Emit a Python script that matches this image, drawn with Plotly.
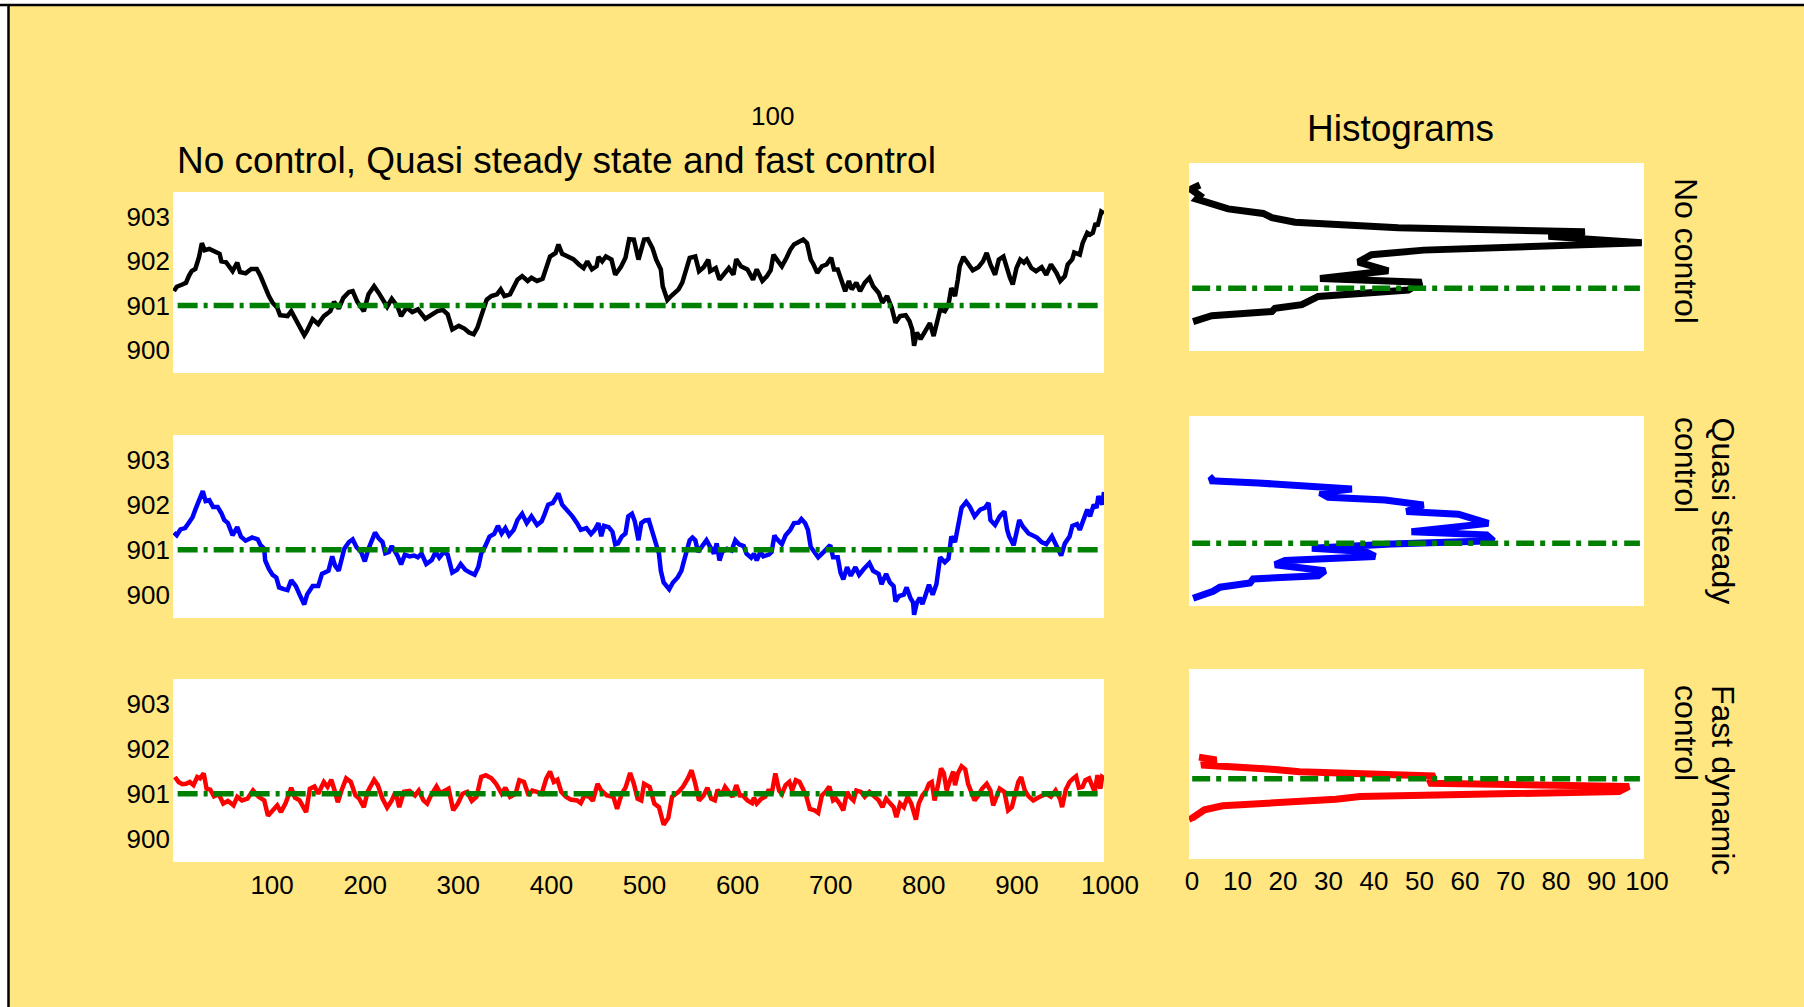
import plotly.graph_objects as go

# ---------------- data ----------------
SETPOINT = 901.0

t_none = [1, 4, 10, 14, 17, 20, 24, 28, 31, 34, 39, 45, 50, 52, 57, 64, 69, 72, 78, 84, 90, 94, 99, 103, 107,
          112, 115, 123, 127, 134, 141, 144, 150, 156, 162, 169, 173, 178, 183, 189, 193, 198, 205, 210, 216,
          221, 227, 230, 235, 241, 245, 251, 257, 263, 271, 278, 284, 290, 295, 300, 307, 313, 318, 323, 327,
          331, 337, 342, 348, 352, 356, 362, 366, 370, 375, 381, 385, 391, 397, 401, 405, 411, 414, 418, 424,
          430, 436, 441, 445, 450, 455, 457, 461, 465, 471, 475, 481, 486, 490, 495, 500, 506, 510, 515, 519,
          524, 526, 531, 535, 538, 543, 547, 551, 555, 561, 565, 570, 575, 577, 583, 587, 592, 597, 602, 605,
          610, 617, 623, 627, 633, 638, 642, 645, 650, 654, 659, 663, 667, 672, 677, 681, 685, 688, 692, 697,
          702, 707, 710, 714, 718, 722, 726, 729, 734, 738, 743, 748, 752, 758, 762, 767, 772, 776, 781, 787,
          791, 794, 796, 799, 803, 807, 813, 817, 820, 824, 829, 833, 836, 840, 843, 845, 849, 854, 859, 865,
          870, 874, 878, 883, 887, 892, 896, 899, 902, 906, 910, 914, 917, 922, 927, 933, 938, 943, 949, 953,
          958, 961, 966, 968, 974, 977, 982, 985, 988, 991, 993, 995, 997, 1000]
v_none = [901.32, 901.42, 901.47, 901.51, 901.66, 901.77, 901.82, 902.09, 902.40, 902.24, 902.27, 902.22,
          902.16, 901.99, 901.97, 901.77, 901.96, 901.75, 901.72, 901.82, 901.82, 901.66, 901.40, 901.21,
          901.06, 900.95, 900.78, 900.76, 900.87, 900.61, 900.33, 900.43, 900.69, 900.58, 900.76, 900.87,
          901.08, 900.93, 901.17, 901.30, 901.32, 901.08, 900.87, 901.25, 901.43, 901.28, 901.06, 900.97,
          901.15, 900.98, 900.76, 900.95, 900.85, 900.91, 900.70, 900.78, 900.87, 900.90, 900.80, 900.46,
          900.54, 900.48, 900.39, 900.35, 900.50, 900.76, 901.13, 901.21, 901.25, 901.36, 901.21, 901.25,
          901.43, 901.58, 901.66, 901.55, 901.62, 901.55, 901.60, 901.88, 902.10, 902.18, 902.37, 902.16,
          902.09, 902.04, 901.92, 901.84, 901.99, 901.81, 901.88, 902.09, 901.99, 902.10, 902.03, 901.69,
          901.86, 902.07, 902.49, 902.48, 902.03, 902.48, 902.49, 902.29, 902.03, 901.81, 901.43, 901.12,
          901.21, 901.28, 901.36, 901.51, 901.77, 902.07, 902.10, 901.77, 901.86, 902.03, 901.77, 901.84,
          901.58, 901.73, 901.84, 901.69, 902.04, 901.88, 901.81, 901.58, 901.81, 901.55, 901.66, 901.79,
          902.14, 901.99, 901.88, 902.07, 902.25, 902.37, 902.42, 902.48, 902.40, 902.03, 901.92, 901.73,
          901.88, 901.92, 902.07, 901.81, 901.81, 901.55, 901.32, 901.55, 901.36, 901.51, 901.32, 901.51,
          901.62, 901.43, 901.28, 901.06, 901.21, 900.95, 900.61, 900.76, 900.78, 900.65, 900.46, 900.09,
          900.39, 900.24, 900.40, 900.60, 900.31, 900.54, 900.91, 900.87, 901.02, 901.39, 901.21, 901.58,
          901.88, 902.09, 901.96, 901.79, 901.86, 901.99, 902.18, 901.92, 901.69, 902.03, 902.10, 901.77,
          901.62, 901.47, 901.84, 902.03, 901.96, 902.03, 901.84, 901.77, 901.86, 901.69, 901.92, 901.73,
          901.55, 901.66, 901.92, 902.04, 902.19, 902.14, 902.40, 902.63, 902.59, 902.63, 902.85, 902.78,
          902.93, 903.11, 903.07]

t_quasi = [1, 4, 8, 13, 17, 21, 24, 28, 32, 35, 39, 43, 48, 52, 55, 59, 64, 69, 73, 78, 85, 91, 94, 98, 99,
           103, 107, 111, 114, 119, 123, 127, 132, 136, 141, 144, 150, 156, 160, 167, 171, 174, 178, 184, 189,
           193, 197, 202, 206, 210, 215, 217, 221, 225, 228, 232, 235, 241, 245, 249, 254, 259, 263, 267, 272,
           278, 282, 286, 291, 295, 300, 305, 309, 314, 319, 324, 328, 331, 335, 340, 345, 349, 353, 357, 361,
           366, 370, 375, 380, 385, 391, 396, 399, 403, 408, 414, 418, 423, 429, 434, 438, 444, 449, 453, 457,
           460, 463, 468, 472, 475, 478, 482, 486, 489, 493, 496, 500, 503, 507, 511, 514, 519, 522, 524, 527,
           533, 537, 542, 546, 549, 553, 555, 558, 561, 564, 568, 573, 577, 581, 584, 587, 590, 595, 600, 604,
           608, 613, 616, 621, 624, 627, 631, 634, 640, 643, 646, 648, 654, 658, 663, 667, 672, 675, 679, 682,
           685, 690, 693, 699, 706, 709, 714, 717, 720, 724, 728, 733, 737, 742, 748, 752, 758, 761, 766, 770,
           774, 776, 780, 785, 788, 792, 795, 796, 799, 802, 805, 808, 812, 816, 820, 824, 829, 833, 836, 840,
           844, 847, 852, 856, 861, 867, 872, 876, 878, 883, 888, 893, 896, 898, 903, 906, 909, 913, 919, 923,
           928, 933, 938, 944, 949, 954, 958, 963, 966, 971, 974, 978, 982, 985, 989, 992, 994, 998, 1000]
v_quasi = [901.38, 901.32, 901.45, 901.48, 901.60, 901.72, 901.89, 902.08, 902.30, 902.08, 902.10, 901.95,
           901.95, 901.81, 901.66, 901.59, 901.32, 901.50, 901.29, 901.20, 901.27, 901.23, 901.10, 901.02,
           900.76, 900.57, 900.44, 900.38, 900.16, 900.12, 900.10, 900.32, 900.19, 900.00, 899.78, 900.00,
           900.19, 900.19, 900.46, 900.53, 900.85, 900.65, 900.53, 901.02, 901.17, 901.23, 901.06, 900.95,
           900.74, 901.02, 901.29, 901.38, 901.25, 901.17, 900.92, 900.95, 901.08, 900.87, 900.67, 900.89,
           900.85, 900.87, 900.83, 900.91, 900.68, 900.77, 900.95, 900.82, 900.95, 900.89, 900.49, 900.55,
           900.68, 900.55, 900.49, 900.44, 900.62, 900.91, 901.06, 901.29, 901.35, 901.53, 901.36, 901.48,
           901.32, 901.44, 901.66, 901.80, 901.59, 901.74, 901.55, 901.63, 901.78, 902.00, 902.04, 902.25,
           902.00, 901.89, 901.74, 901.59, 901.44, 901.48, 901.35, 901.44, 901.59, 901.30, 901.53, 901.50,
           901.40, 901.12, 901.14, 901.29, 901.36, 901.74, 901.80, 901.63, 901.21, 901.59, 901.65, 901.66,
           901.44, 901.14, 900.91, 900.53, 900.27, 900.12, 900.27, 900.38, 900.53, 900.76, 901.02, 901.21,
           901.27, 901.21, 900.95, 901.06, 901.21, 901.06, 900.91, 901.14, 900.76, 900.95, 901.02, 900.98,
           901.21, 901.12, 901.08, 900.91, 900.82, 900.91, 900.76, 900.95, 900.85, 900.89, 900.95, 901.32,
           901.25, 901.12, 901.32, 901.44, 901.59, 901.60, 901.68, 901.59, 901.44, 901.06, 900.91, 900.83,
           900.95, 901.10, 900.83, 900.83, 900.49, 900.34, 900.61, 900.42, 900.61, 900.44, 900.57, 900.70,
           900.53, 900.46, 900.23, 900.46, 900.27, 900.19, 899.85, 899.97, 900.00, 900.16, 899.93, 899.82,
           899.55, 899.82, 899.93, 899.79, 899.97, 900.22, 900.00, 900.23, 900.83, 900.72, 900.80, 901.29,
           901.17, 901.59, 901.93, 902.06, 901.95, 901.74, 901.89, 901.93, 902.04, 901.66, 901.55, 901.74,
           901.85, 901.44, 901.30, 901.10, 901.44, 901.66, 901.51, 901.36, 901.32, 901.27, 901.17, 901.12,
           901.30, 901.10, 900.87, 901.14, 901.29, 901.53, 901.57, 901.44, 901.66, 901.89, 901.74, 902.00,
           901.93, 902.19, 902.00, 902.28]

t_fast = [2, 6, 10, 14, 18, 22, 26, 29, 33, 36, 40, 44, 49, 54, 59, 65, 69, 74, 80, 86, 92, 98, 102, 107, 112,
          116, 121, 127, 131, 136, 143, 147, 152, 156, 162, 166, 170, 173, 177, 181, 186, 191, 196, 200, 205,
          209, 216, 220, 225, 230, 235, 239, 243, 248, 254, 260, 264, 269, 273, 277, 283, 287, 292, 296, 301,
          306, 311, 316, 321, 326, 331, 336, 342, 347, 353, 357, 362, 368, 372, 377, 382, 386, 391, 396, 401,
          405, 409, 413, 417, 422, 427, 434, 438, 442, 447, 451, 456, 460, 466, 473, 477, 482, 486, 491, 495,
          499, 503, 506, 512, 517, 522, 527, 532, 536, 543, 548, 553, 557, 561, 565, 570, 574, 578, 582, 585,
          589, 593, 597, 601, 605, 609, 612, 617, 622, 624, 627, 632, 636, 640, 643, 647, 651, 654, 658, 662,
          665, 669, 673, 677, 680, 684, 689, 693, 697, 701, 705, 709, 712, 716, 720, 724, 727, 731, 734, 739,
          743, 748, 753, 758, 762, 766, 770, 774, 777, 781, 785, 789, 793, 796, 798, 801, 805, 809, 812, 815,
          818, 822, 825, 828, 831, 834, 838, 840, 843, 847, 851, 854, 858, 861, 865, 869, 874, 878, 881, 884,
          888, 893, 897, 901, 904, 908, 911, 915, 919, 924, 929, 934, 938, 943, 948, 953, 955, 959, 963, 967,
          970, 973, 977, 980, 984, 987, 990, 993, 996, 998, 1000]
v_fast = [901.37, 901.26, 901.21, 901.22, 901.26, 901.19, 901.37, 901.34, 901.45, 901.11, 901.09, 900.94,
          900.99, 900.78, 900.84, 900.74, 900.93, 900.85, 900.89, 901.07, 900.93, 900.85, 900.51, 900.63,
          900.74, 900.59, 900.79, 901.13, 900.91, 900.85, 900.59, 901.11, 901.16, 901.00, 901.26, 901.15,
          901.31, 901.11, 900.81, 901.07, 901.34, 901.26, 900.96, 900.89, 900.70, 901.04, 901.31, 901.19,
          900.89, 900.69, 900.85, 901.04, 900.70, 901.04, 901.06, 900.96, 901.07, 900.85, 900.78, 900.96,
          901.16, 901.01, 901.07, 901.11, 900.63, 900.78, 901.00, 901.04, 900.84, 900.93, 901.37, 901.41,
          901.34, 901.22, 901.00, 901.13, 900.93, 901.00, 901.30, 901.26, 900.96, 901.07, 901.04, 901.00,
          901.34, 901.49, 901.26, 901.31, 901.04, 900.93, 900.87, 900.85, 900.79, 900.96, 900.93, 900.84,
          901.22, 901.07, 900.96, 900.93, 900.66, 901.00, 901.13, 901.46, 901.22, 900.89, 900.85, 901.22,
          901.15, 900.78, 900.70, 900.31, 900.46, 900.93, 901.04, 901.16, 901.34, 901.52, 901.22, 900.85,
          900.96, 901.13, 900.89, 900.85, 901.09, 900.96, 901.15, 901.04, 900.93, 901.19, 900.96, 900.96,
          900.85, 900.79, 900.91, 900.78, 900.89, 900.93, 901.09, 900.99, 901.45, 901.07, 900.99, 901.19,
          901.26, 901.07, 901.30, 901.26, 901.07, 900.96, 900.66, 900.63, 900.57, 900.96, 901.04, 901.16,
          900.85, 900.89, 900.78, 900.63, 901.04, 900.93, 900.85, 901.07, 901.04, 900.93, 901.04, 900.94,
          900.85, 900.70, 900.89, 900.79, 900.70, 900.48, 900.78, 900.70, 900.93, 900.78, 900.55, 900.42,
          900.78, 900.96, 901.07, 901.22, 901.26, 900.85, 901.22, 901.56, 901.45, 901.07, 901.26, 901.49,
          901.19, 901.45, 901.61, 901.54, 901.22, 901.00, 900.85, 900.96, 901.11, 901.22, 901.07, 900.74,
          900.93, 901.11, 901.04, 900.63, 900.70, 900.96, 901.26, 901.37, 901.07, 900.94, 900.85, 900.91,
          900.96, 901.00, 900.93, 901.07, 900.87, 900.70, 901.09, 901.26, 901.34, 901.39, 901.13, 901.15,
          901.30, 901.34, 901.19, 901.04, 901.41, 901.11, 901.37, 901.34]

# histogram curves: count (%) against level
cnt_none = [2.4, 0.4, 2.4, 1.7, 8.6, 16.3, 18.2, 23.3, 46.0, 87.0, 79.0, 99.5, 51.6, 40.1, 37.2, 43.8,
            28.8, 51.1, 48.2, 28.4, 24.8, 18.9, 18.2, 5.0, 0.9]
lev_none = [903.25, 903.16, 903.02, 902.94, 902.73, 902.63, 902.54, 902.44, 902.32, 902.23, 902.13, 901.99,
            901.83, 901.73, 901.57, 901.38, 901.21, 901.13, 900.96, 900.82, 900.64, 900.56, 900.49, 900.40,
            900.27]
cnt_quasi = [5.6, 4.6, 15.2, 35.8, 28.8, 30.6, 43.1, 51.5, 47.8, 59.2, 65.8, 48.9, 65.4, 66.9, 44.5, 27.0,
             38.7, 40.9, 21.1, 18.9, 29.9, 28.4, 14.1, 13.4, 6.8, 5.3, 0.9]
lev_quasi = [902.45, 902.36, 902.31, 902.18, 902.10, 902.00, 901.94, 901.83, 901.69, 901.63, 901.43, 901.25,
             901.18, 901.05, 900.98, 900.89, 900.82, 900.71, 900.62, 900.53, 900.40, 900.29, 900.22, 900.13,
             900.04, 899.95, 899.80]
cnt_fast = [2.2, 6.0, 2.7, 7.4, 12.7, 18.9, 24.3, 31.4, 37.6, 54.0, 52.7, 66.9, 96.7, 94.5, 66.0, 37.6,
            32.3, 19.8, 7.4, 3.4, 0.7, 1.0]
lev_fast = [901.47, 901.41, 901.30, 901.28, 901.23, 901.20, 901.15, 901.12, 901.10, 901.06, 900.90, 900.88,
            900.83, 900.72, 900.67, 900.61, 900.55, 900.48, 900.41, 900.32, 900.14, 900.08]

time_ticks = [100, 200, 300, 400, 500, 600, 700, 800, 900, 1000]
level_ticks = [900, 901, 902, 903]
count_ticks = [0, 10, 20, 30, 40, 50, 60, 70, 80, 90, 100]
setpoint_span_time = [5, 995]
setpoint_span_count = [0.7, 99.1]

# ---------------- layout helpers ----------------
W, H = 1804, 1007
BG = "#FFE680"
FONT = "Liberation Sans, Arial, Helvetica, sans-serif"


def fx(p):
    return p / W


def fy(p):
    return 1 - p / H


fig = go.Figure()

series = [(t_none, v_none, "black"), (t_quasi, v_quasi, "blue"), (t_fast, v_fast, "red")]
hists = [(cnt_none, lev_none, "black"), (cnt_quasi, lev_quasi, "blue"), (cnt_fast, lev_fast, "red")]

for i, (t, v, c) in enumerate(series):
    ax = "" if i == 0 else str(i + 1)
    fig.add_trace(go.Scatter(x=t, y=v, mode="lines", line=dict(color=c, width=4.5),
                             xaxis="x" + ax, yaxis="y" + ax, showlegend=False, hoverinfo="skip"))
    fig.add_trace(go.Scatter(x=setpoint_span_time, y=[SETPOINT, SETPOINT], mode="lines",
                             line=dict(color="#008000", width=5.5, dash="20px,6px,4px,6px"),
                             xaxis="x" + ax, yaxis="y" + ax, showlegend=False, hoverinfo="skip"))

for i, (c_, l_, c) in enumerate(hists):
    ax = str(i + 4)
    fig.add_trace(go.Scatter(x=c_, y=l_, mode="lines", line=dict(color=c, width=7),
                             xaxis="x" + ax, yaxis="y" + ax, showlegend=False, hoverinfo="skip"))
    fig.add_trace(go.Scatter(x=setpoint_span_count, y=[SETPOINT, SETPOINT], mode="lines",
                             line=dict(color="#008000", width=5.5, dash="18px,6px,5px,7px"),
                             xaxis="x" + ax, yaxis="y" + ax, showlegend=False, hoverinfo="skip"))

time_rows = [(192, 373), (435, 618), (679, 862)]
hist_rows = [(163, 351), (416, 606), (669, 859)]
hist_ranges = [[899.63, 903.73], [899.63, 903.77], [899.25, 903.39]]

axis_common = dict(showgrid=False, zeroline=False, showline=False, ticks="", automargin=False,
                   tickfont=dict(family=FONT, size=26, color="black"))
layout = {}
for i, (top, bot) in enumerate(time_rows):
    k = "" if i == 0 else str(i + 1)
    layout["xaxis" + k] = dict(axis_common, domain=[fx(173), fx(1104)], range=[0, 1000],
                               anchor="y" + k, tickvals=time_ticks, showticklabels=(i == 2),
                               ticklabelshift=6, ticklabelstandoff=5)
    layout["yaxis" + k] = dict(axis_common, domain=[fy(bot), fy(top)], range=[899.48, 903.55],
                               anchor="x" + k, tickvals=level_ticks, ticklabelstandoff=2)
for i, (top, bot) in enumerate(hist_rows):
    k = str(i + 4)
    layout["xaxis" + k] = dict(axis_common, domain=[fx(1189), fx(1644)], range=[0, 100],
                               anchor="y" + k, tickvals=count_ticks, showticklabels=(i == 2),
                               ticklabelshift=3, ticklabelstandoff=4)
    layout["yaxis" + k] = dict(axis_common, domain=[fy(bot), fy(top)], range=hist_ranges[i],
                               anchor="x" + k, showticklabels=False)

annotations = [
    dict(text="100", x=fx(772), y=fy(116), font=dict(size=26)),
    dict(text="No control, Quasi steady state and fast control", x=fx(175), y=fy(160),
         xanchor="left", font=dict(size=37)),
    dict(text="Histograms", x=fx(1400), y=fy(128), font=dict(size=37)),
    dict(text="No control", x=fx(1686), y=fy(176), yanchor="top", textangle=90, font=dict(size=32)),
    dict(text="Quasi steady", x=fx(1723), y=fy(415), yanchor="top", textangle=90, font=dict(size=32)),
    dict(text="control", x=fx(1686), y=fy(415), yanchor="top", textangle=90, font=dict(size=32)),
    dict(text="Fast dynamic", x=fx(1723), y=fy(683), yanchor="top", textangle=90, font=dict(size=32)),
    dict(text="control", x=fx(1686), y=fy(683), yanchor="top", textangle=90, font=dict(size=32)),
]
for a in annotations:
    a.setdefault("xanchor", "center")
    a.setdefault("yanchor", "middle")
    a["xref"] = "paper"
    a["yref"] = "paper"
    a["showarrow"] = False
    a["font"] = dict(family=FONT, color="black", **a["font"])

shapes = [
    dict(type="rect", xref="paper", yref="paper", x0=0, x1=fx(8), y0=0, y1=1,
         fillcolor="white", line=dict(width=0)),
    dict(type="rect", xref="paper", yref="paper", x0=0, x1=1, y0=fy(4), y1=1,
         fillcolor="white", line=dict(width=0)),
    dict(type="line", xref="paper", yref="paper", x0=0, x1=1, y0=fy(5), y1=fy(5),
         line=dict(color="black", width=2.5)),
    dict(type="line", xref="paper", yref="paper", x0=fx(8.5), x1=fx(8.5), y0=0, y1=fy(5),
         line=dict(color="black", width=2.5)),
]

fig.update_layout(
    width=W, height=H, autosize=False,
    margin=dict(l=0, r=0, t=0, b=0, pad=0, autoexpand=False),
    paper_bgcolor=BG, plot_bgcolor="white",
    font=dict(family=FONT, color="black"),
    annotations=annotations, shapes=shapes, showlegend=False,
    **layout,
)

fig.write_html("out.html", config={"displayModeBar": False, "responsive": False})
